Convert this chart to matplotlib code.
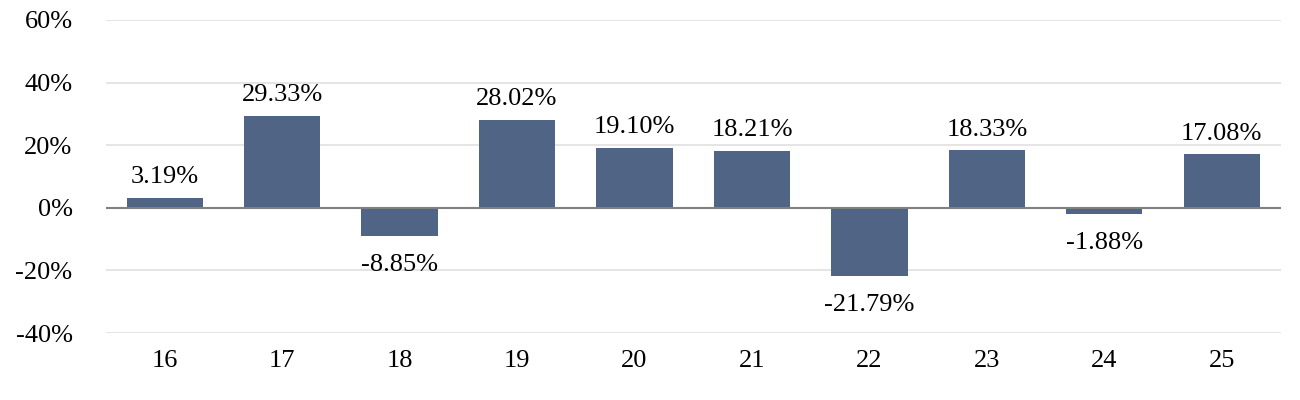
import matplotlib
matplotlib.use('Agg')
from matplotlib import pyplot as plt
from matplotlib.ticker import FuncFormatter

years = ['16', '17', '18', '19', '20', '21', '22', '23', '24', '25']
returns = [3.19, 29.33, -8.85, 28.02, 19.10, 18.21, -21.79, 18.33, -1.88, 17.08]

plt.rcParams['font.family'] = ['Liberation Serif', 'DejaVu Serif']
fs = 19

fig = plt.figure(figsize=(13, 4), dpi=100)
ax = fig.add_axes([0.0815, 0.1675, 0.9035, 0.7825])

x = list(range(len(years)))
bars = ax.bar(x, returns, width=0.65, color='#506486', zorder=3)

for xi, v in zip(x, returns):
    if v >= 0:
        ax.annotate('%.2f%%' % v, (xi, v), xytext=(0, 7), textcoords='offset points',
                    ha='center', va='bottom', fontsize=fs)
    else:
        ax.annotate('%.2f%%' % v, (xi, v), xytext=(0, -13), textcoords='offset points',
                    ha='center', va='top', fontsize=fs)

ax.set_xlim(-0.5, len(years) - 0.5)
ax.set_ylim(-40, 60)
ax.set_yticks(range(-40, 61, 20))
ax.yaxis.set_major_formatter(FuncFormatter(lambda v, p: '%d%%' % v))
ax.set_xticks(x)
ax.set_xticklabels(years)

ax.grid(axis='y', color='#e0e0e0', linewidth=1.2, zorder=0)
ax.axhline(0, color='#808080', linewidth=1.5, zorder=4)
for s in ax.spines.values():
    s.set_visible(False)
ax.tick_params(length=0, labelsize=fs)
ax.tick_params(axis='y', pad=24)
ax.tick_params(axis='x', pad=12)

plt.savefig('out.png')
